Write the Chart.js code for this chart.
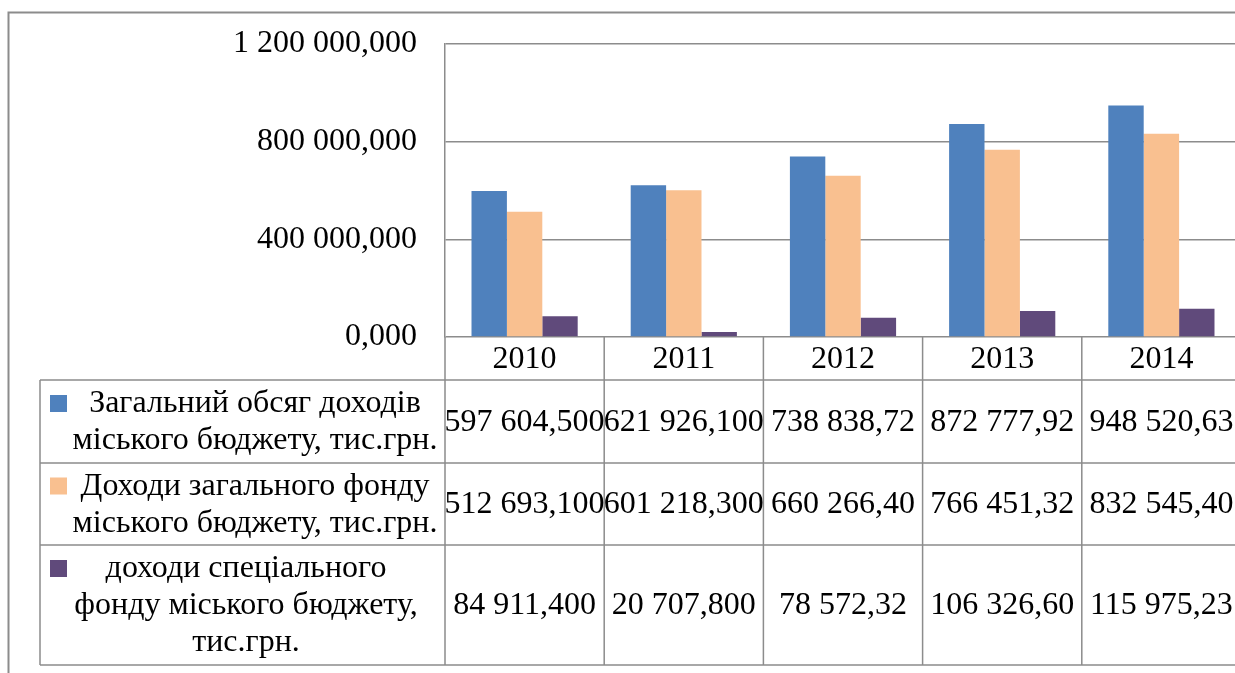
<!DOCTYPE html>
<html>
<head>
<meta charset="utf-8">
<script src="https://cdn.jsdelivr.net/npm/chart.js@4.4.1/dist/chart.umd.min.js"></script>
<style>
  html, body { margin: 0; padding: 0; background: #ffffff; overflow: hidden; }
  #wrap { width: 1235px; height: 673px; overflow: hidden; position: relative; }
  canvas { display: block; }
</style>
</head>
<body>
<div id="wrap"><canvas id="c" width="1262" height="673"></canvas></div>
<script>
// ---- data ----
const categories = ['2010', '2011', '2012', '2013', '2014'];
const totalIncome = [597604.5, 621926.1, 738838.72, 872777.92, 948520.63];
const generalFund = [512693.1, 601218.3, 660266.4, 766451.32, 832545.4];
const specialFund = [84911.4, 20707.8, 78572.32, 106326.6, 115975.23];
const totalIncomeLabels = ['597 604,500', '621 926,100', '738 838,72', '872 777,92', '948 520,63'];
const generalFundLabels = ['512 693,100', '601 218,300', '660 266,40', '766 451,32', '832 545,40'];
const specialFundLabels = ['84 911,400', '20 707,800', '78 572,32', '106 326,60', '115 975,23'];
const seriesNames = [
  ['Загальний обсяг доходів', 'міського бюджету, тис.грн.'],
  ['Доходи загального фонду', 'міського бюджету, тис.грн.'],
  ['доходи спеціального', 'фонду міського бюджету,', 'тис.грн.']
];
const yTicks = [0, 400000, 800000, 1200000];

const colors = ['#4F81BD', '#F9C090', '#604A7B'];
const gridColor = '#8C8C8C';
const FONT = '32px "Liberation Serif", "Times New Roman", serif';

function fmtNum(v) {
  const parts = v.toFixed(3).split('.');
  const intPart = parts[0].replace(/\B(?=(\d{3})+(?!\d))/g, ' ');
  return intPart + ',' + parts[1];
}

const tablePlugin = {
  id: 'dataTable',
  afterDraw(chart) {
    const ctx = chart.ctx;
    const area = chart.chartArea;
    const xs = chart.scales.x;
    const n = categories.length;
    const colW = (area.right - area.left) / n;
    const legendLeft = 40;
    const headerBottom = area.bottom + 43;
    const rowHeights = [83, 82, 120];
    const legendTextCenters = [255, 255, 246];
    const rowTops = [headerBottom];
    rowHeights.forEach((h, i) => rowTops.push(rowTops[i] + h));
    const tableBottom = rowTops[rowTops.length - 1];

    ctx.save();
    // outer chart border
    ctx.strokeStyle = gridColor;
    ctx.lineWidth = 2;
    ctx.beginPath();
    ctx.moveTo(8.5, chart.height + 5);
    ctx.lineTo(8.5, 12.5);
    ctx.lineTo(chart.width + 5, 12.5);
    ctx.stroke();

    ctx.lineWidth = 1.5;
    ctx.strokeStyle = gridColor;
    ctx.beginPath();
    rowTops.forEach(y => { ctx.moveTo(legendLeft, y); ctx.lineTo(area.right, y); });
    ctx.moveTo(legendLeft, headerBottom); ctx.lineTo(legendLeft, tableBottom);
    for (let i = 0; i <= n; i++) {
      const x = area.left + i * colW;
      ctx.moveTo(x, area.bottom); ctx.lineTo(x, tableBottom);
    }
    ctx.stroke();

    ctx.fillStyle = '#000000';
    ctx.font = FONT;
    ctx.textAlign = 'center';
    ctx.textBaseline = 'middle';
    categories.forEach((c, i) => {
      ctx.fillText(c, xs.getPixelForValue(i), (area.bottom + headerBottom) / 2 + 1);
    });
    const labelSets = [totalIncomeLabels, generalFundLabels, specialFundLabels];
    labelSets.forEach((labels, r) => {
      const mid = (rowTops[r] + rowTops[r + 1]) / 2 + 1;
      labels.forEach((t, i) => ctx.fillText(t, xs.getPixelForValue(i), mid));
      const lines = seriesNames[r];
      const lh = 37;
      const firstY = mid - (lines.length - 1) * lh / 2;
      lines.forEach((ln, k) => ctx.fillText(ln, legendTextCenters[r], firstY + k * lh));
      ctx.fillStyle = colors[r];
      ctx.fillRect(50, firstY - 9, 17, 17);
      ctx.fillStyle = '#000000';
    });
    ctx.restore();
  }
};

new Chart(document.getElementById('c'), {
  type: 'bar',
  data: {
    labels: categories,
    datasets: [
      { label: seriesNames[0].join(' '), data: totalIncome, backgroundColor: colors[0] },
      { label: seriesNames[1].join(' '), data: generalFund, backgroundColor: colors[1] },
      { label: seriesNames[2].join(' '), data: specialFund, backgroundColor: colors[2] }
    ]
  },
  options: {
    responsive: false,
    animation: false,
    devicePixelRatio: 1,
    layout: { padding: { left: 0, top: 44, right: 21, bottom: 336 } },
    datasets: { bar: { categoryPercentage: 0.667, barPercentage: 1.0 } },
    plugins: { legend: { display: false }, tooltip: { enabled: false }, title: { display: false } },
    scales: {
      x: { display: false, grid: { display: false } },
      y: {
        min: 0, max: 1200000,
        afterBuildTicks(scale) { scale.ticks = yTicks.map(v => ({ value: v })); },
        afterFit(scale) { scale.width = 445; },
        grid: { color: gridColor, lineWidth: 1.5, drawTicks: false },
        border: { display: true, color: gridColor, width: 1.5 },
        ticks: {
          padding: 28,
          color: '#000000',
          font: { family: '"Liberation Serif", "Times New Roman", serif', size: 32, lineHeight: 1 },
          callback: v => fmtNum(v)
        }
      }
    }
  },
  plugins: [tablePlugin]
});
</script>
</body>
</html>
